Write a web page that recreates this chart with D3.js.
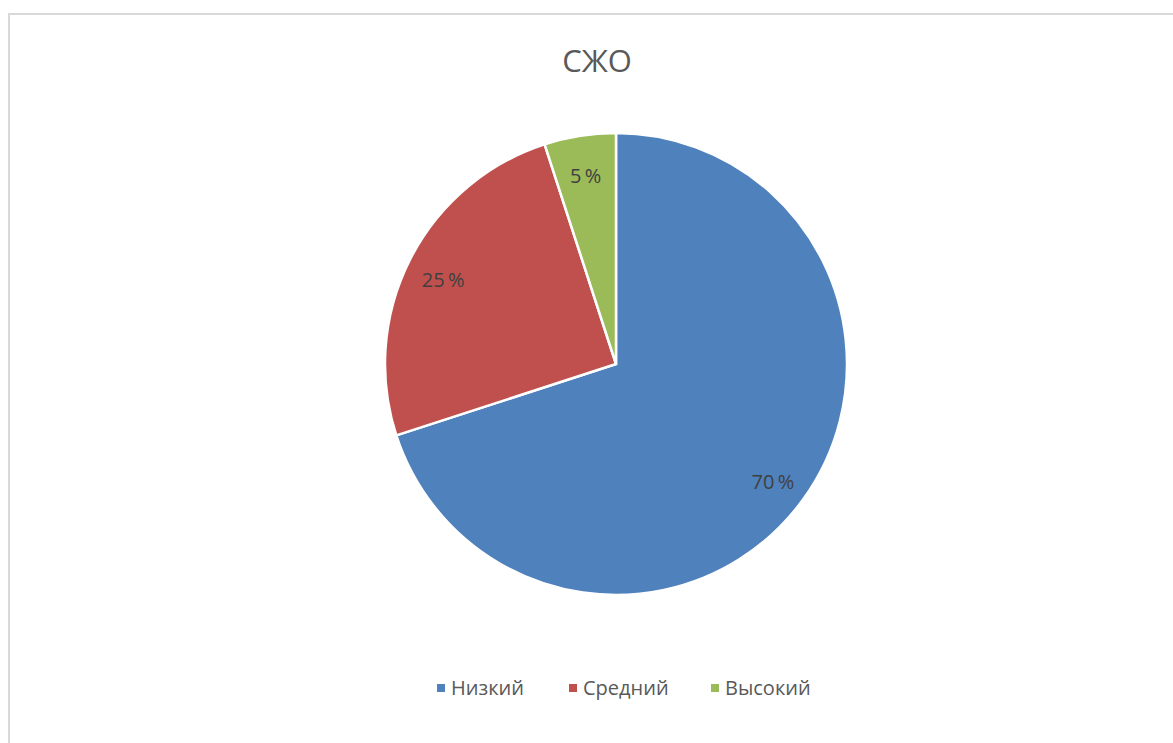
<!DOCTYPE html>
<html>
<head>
<meta charset="utf-8">
<script src="https://cdn.jsdelivr.net/npm/d3@7"></script>
<style>
  body { margin: 0; background: #fff; }
  svg { display: block; }
</style>
</head>
<body>
<svg id="chart" width="1173" height="743"></svg>
<script>
let title = 'СЖО';
let categories = ['Низкий', 'Средний', 'Высокий'];
let values = [70, 25, 5];
let colors = ['#4f81bd', '#c0504d', '#9bbb59'];

let svg = d3.select('#chart');
let font = '"Open Sans", "Liberation Sans", sans-serif';

// chart area frame
svg.append('rect')
	.attr('x', 9)
	.attr('y', 14)
	.attr('width', 1180)
	.attr('height', 760)
	.attr('fill', '#fff')
	.attr('stroke', '#d9d9d9')
	.attr('stroke-width', 2);

svg.append('text')
	.attr('x', 597)
	.attr('y', 72)
	.attr('text-anchor', 'middle')
	.attr('font-family', font)
	.attr('font-size', 31)
	.attr('fill', '#595959')
	.text(title);

let cx = 616, cy = 364, radius = 231;

let pie = d3.pie().sort(null).value(d => d.value);
let arcs = pie(categories.map((c, i) => ({name: c, value: values[i]})));

let arc = d3.arc().innerRadius(0).outerRadius(radius);
let labelArc = d3.arc().innerRadius(radius * 0.84).outerRadius(radius * 0.84);

let g = svg.append('g').attr('transform', `translate(${cx},${cy})`);

g.selectAll('path')
	.data(arcs)
	.join('path')
	.attr('d', arc)
	.attr('fill', (d, i) => colors[i])
	.attr('stroke', '#fff')
	.attr('stroke-width', 2.5)
	.attr('stroke-linejoin', 'round');

g.selectAll('text.lbl')
	.data(arcs)
	.join('text')
	.attr('class', 'lbl')
	.attr('transform', d => `translate(${labelArc.centroid(d)})`)
	.attr('text-anchor', 'middle')
	.attr('dy', '0.55em')
	.attr('font-family', font)
	.attr('font-size', 20)
	.attr('fill', '#404040')
	.text(d => d.data.value + '\u2009%');

// Legend
let legendX = [437, 569, 711];
let legend = svg.append('g');
let items = legend.selectAll('g')
	.data(categories)
	.join('g')
	.attr('transform', (d, i) => `translate(${legendX[i]},688)`);

items.append('rect')
	.attr('x', 0)
	.attr('y', -4)
	.attr('width', 8)
	.attr('height', 8)
	.attr('fill', (d, i) => colors[i]);

items.append('text')
	.attr('x', 14)
	.attr('dy', '0.35em')
	.attr('font-family', font)
	.attr('font-size', 20)
	.attr('fill', '#595959')
	.text(d => d);
</script>
</body>
</html>
